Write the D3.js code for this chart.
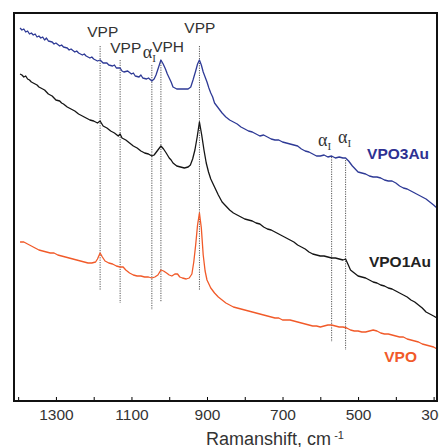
<!DOCTYPE html>
<html><head><meta charset="utf-8">
<script src="https://cdn.jsdelivr.net/npm/d3@7"></script>
<style>body{margin:0;background:#fff}svg{display:block}</style>
</head><body>
<svg id="c" width="439" height="447"></svg>
<script>
// ---- data (wavenumber cm^-1, intensity a.u.) ----
const xTickValues = [1400,1300,1200,1100,1000,900,800,700,600,500,400,300];
const xTickLabels = [1300,1100,900,700,500,300];
const seriesNames = ["VPO3Au","VPO1Au","VPO"];

const vpo3au = [[1395,373],[1390,371],[1385,372],[1380,369],[1375,370],[1370,367],[1365,368],[1360,366],[1355,367],[1350,364],[1345,365],[1340,363],[1335,364],[1330,361],[1325,363],[1320,360],[1310,359],[1305,357],[1300,358],[1290,355],[1285,356],[1280,354],[1270,353],[1265,351],[1260,352],[1250,349],[1245,350],[1240,348],[1230,346],[1225,347],[1220,345],[1210,343],[1205,344],[1200,342],[1190,340],[1183,341],[1175,338],[1165,338],[1160,336],[1150,335],[1145,336],[1140,333],[1130,333],[1125,330],[1120,329],[1110,330],[1100,327],[1095,328],[1090,325],[1080,324],[1075,326],[1070,323],[1060,322],[1055,323],[1046,320],[1040,322],[1035,326],[1028,334],[1022,341],[1016,337],[1010,332],[1005,327],[1000,323],[995,319],[990,314],[980,312],[970,312],[960,312],[950,312],[943,314],[937,321],[930,330],[925,337],[920,341],[915,336],[910,329],[905,324],[900,319],[895,313],[890,308],[885,304],[880,298],[870,293],[860,288],[850,284],[840,281],[830,279],[820,277],[810,274],[800,272],[790,270],[780,269],[770,267],[760,265],[750,266],[740,264],[730,262],[720,261],[710,261],[700,259],[690,258],[680,257],[670,256],[660,255],[650,252],[640,250],[630,249],[620,247],[610,245],[600,245],[590,246],[580,244],[570,245],[560,243],[550,244],[540,243],[533,243],[525,240],[515,235],[505,231],[500,229],[490,228],[480,227],[470,225],[460,224],[450,224],[440,223],[430,221],[420,220],[410,220],[400,218],[390,215],[380,213],[370,212],[360,210],[350,208],[340,206],[330,204],[320,202],[310,199],[300,196],[291,193]];

const vpo1au = [[1395,327],[1390,326],[1385,324],[1380,325],[1375,322],[1370,321],[1365,319],[1360,318],[1350,316],[1345,314],[1340,313],[1330,311],[1325,309],[1320,307],[1310,305],[1305,303],[1300,301],[1290,300],[1285,298],[1280,297],[1270,294],[1260,292],[1250,290],[1240,287],[1230,285],[1220,283],[1210,281],[1200,280],[1190,278],[1183,280],[1175,275],[1165,273],[1155,270],[1145,268],[1135,265],[1130,267],[1125,263],[1115,261],[1105,258],[1095,255],[1085,253],[1075,250],[1065,248],[1055,247],[1046,245],[1040,246],[1032,250],[1022,255],[1015,252],[1008,248],[1000,243],[995,241],[990,238],[980,235],[970,234],[960,233],[950,234],[944,236],[938,242],[932,251],[926,264],[920,279],[914,266],[908,251],[902,238],[896,229],[890,222],[880,214],[870,206],[860,199],[850,195],[840,191],[830,188],[820,186],[810,184],[800,182],[790,181],[780,180],[770,178],[760,177],[750,174],[740,172],[730,171],[720,169],[710,167],[700,165],[690,163],[680,161],[670,159],[660,156],[650,154],[640,152],[630,149],[620,147],[610,146],[600,145],[590,145],[580,144],[570,143],[560,143],[550,142],[540,141],[533,142],[527,137],[520,131],[510,128],[500,125],[490,124],[480,123],[470,121],[460,119],[450,118],[440,116],[430,115],[420,113],[410,112],[400,110],[390,108],[380,106],[370,104],[360,101],[350,99],[340,96],[330,93],[320,89],[310,87],[300,85],[291,83]];

const vpo = [[1395,159],[1385,159],[1375,157],[1365,155],[1355,153],[1345,151],[1335,150],[1325,149],[1315,148],[1305,148],[1295,146],[1285,145],[1275,144],[1265,143],[1255,142],[1245,141],[1235,140],[1225,139],[1215,138],[1205,138],[1195,139],[1190,142],[1183,148],[1177,144],[1170,140],[1160,138],[1150,137],[1140,135],[1130,134],[1122,134],[1115,131],[1105,128],[1095,126],[1085,125],[1075,125],[1065,124],[1055,124],[1046,123],[1038,124],[1030,126],[1022,131],[1015,130],[1007,128],[1000,126],[993,125],[985,127],[978,127],[972,124],[965,123],[955,122],[947,123],[940,127],[935,139],[930,156],[925,176],[920,188],[915,173],[910,146],[905,130],[900,121],[890,113],[880,108],[870,104],[860,101],[850,98],[840,96],[830,94],[820,93],[810,92],[800,91],[790,90],[780,89],[770,88],[760,87],[750,86],[740,85],[730,84],[720,83],[710,83],[700,81],[690,81],[680,81],[670,80],[660,79],[650,78],[640,77],[630,76],[620,75],[610,75],[600,74],[590,75],[580,76],[570,76],[560,75],[550,74],[540,74],[530,73],[520,71],[510,70],[500,70],[490,69],[480,69],[470,70],[460,71],[450,70],[440,68],[430,67],[420,67],[410,66],[400,65],[390,64],[380,64],[370,62],[360,61],[350,60],[340,59],[330,57],[320,56],[310,55],[300,54],[291,52]];

// peak marker lines
const markerWn = [1183,1130,1046,1022,920,570,533];
const markerTop = [355,341,336,341,355,244,241];
const markerBottom = [111,98,91,99,111,59,51];

// peak labels
const peakText = ["VPP","VPP","\u03b1","VPH","VPP","\u03b1","\u03b1"];
const peakWn = [1176,1115,1070,1003,919,606,553];
const peakI = [364,348,343,349,368,255,258];

// ---- layout ----
const W = 439, H = 447;
const L = 14, R = 437, T = 13, B = 401;
const colors = ["#2e3a96","#151515","#f15a29"];
const labelColors = ["#2e3192","#222222","#f15a29"];

const svg = d3.select("#c");
const x = d3.scaleLinear().domain([1411, 291]).range([L, R]);
const y = d3.scaleLinear().domain([0, 388]).range([B, T]);

svg.append("defs").append("clipPath").attr("id","clip")
  .append("rect").attr("x",L).attr("y",T).attr("width",R-L).attr("height",B-T);

// marker lines
svg.append("g").selectAll("line").data(markerWn).join("line")
  .attr("x1", d => x(d)).attr("x2", d => x(d))
  .attr("y1", (d,i) => y(markerTop[i])).attr("y2", (d,i) => y(markerBottom[i]))
  .attr("stroke","#555").attr("stroke-width",1).attr("stroke-dasharray","1.2,1.2");

// spectra
const line = d3.line().x(d => x(d[0])).y(d => y(d[1]));
const g = svg.append("g").attr("clip-path","url(#clip)");
[vpo3au, vpo1au, vpo].forEach((s,i) => {
  g.append("path").datum(s).attr("d", line).attr("fill","none")
    .attr("stroke", colors[i]).attr("stroke-width",1.3).attr("stroke-linejoin","round");
});

// axis
const ax = svg.append("g").attr("transform",`translate(0,${B})`)
  .call(d3.axisBottom(x).tickValues(xTickValues).tickSize(-4).tickPadding(8)
    .tickFormat(d => xTickLabels.includes(d) ? d : ""));
ax.select(".domain").remove();
ax.selectAll(".tick line").attr("stroke","#000").attr("stroke-width",1);
ax.selectAll(".tick text").attr("font-family","Liberation Sans, Arial, sans-serif")
  .attr("font-size","15.5px").attr("fill","#333");

// frame
svg.append("rect").attr("x",L).attr("y",T).attr("width",R-L).attr("height",B-T)
  .attr("fill","none").attr("stroke","#111").attr("stroke-width",2);

// peak labels
peakText.forEach((t,i) => {
  if (t === "\u03b1") {
    const tx = svg.append("text").attr("x", x(peakWn[i])).attr("y", y(peakI[i]))
      .attr("font-family","Liberation Serif, Times New Roman, serif")
      .attr("font-size","18px").attr("fill","#333").attr("text-anchor","start");
    tx.append("tspan").text(t);
    tx.append("tspan").attr("font-size","11px").attr("dy",4).text("I");
  } else {
    svg.append("text").attr("x", x(peakWn[i])).attr("y", y(peakI[i]))
      .attr("text-anchor","middle")
      .attr("font-family","Liberation Sans, Arial, sans-serif")
      .attr("font-size","15.5px").attr("fill","#333").text(t);
  }
});

// series labels
const seriesLabelWn = [312, 307, 344];
const seriesLabelI = [242, 134, 39];
seriesNames.forEach((n,i) => {
  svg.append("text").attr("x", x(seriesLabelWn[i])).attr("y", y(seriesLabelI[i]))
    .attr("text-anchor","end").attr("font-family","Liberation Sans, Arial, sans-serif")
    .attr("font-weight","bold").attr("font-size","15.5px").attr("fill", labelColors[i]).text(n);
});

// axis title
const at = svg.append("text").attr("x",275).attr("y",445).attr("text-anchor","middle")
  .attr("font-family","Liberation Sans, Arial, sans-serif").attr("font-size","18px").attr("fill","#333");
at.append("tspan").text("Ramanshift, cm");
at.append("tspan").attr("font-size","11px").attr("dx",3).attr("dy",-6).text("-1");
</script>
</body></html>
